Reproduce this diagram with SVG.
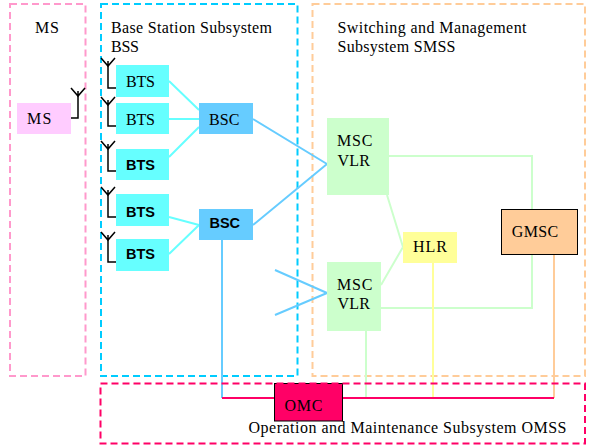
<svg xmlns="http://www.w3.org/2000/svg" width="592" height="447" viewBox="0 0 592 447">
<defs>
<path id="ant" d="M-7 -8L0 0L7 -8M0 -5V0" fill="none" stroke="#000" stroke-width="1.500"/>
</defs>
<style>
text{font-family:"Liberation Serif","Times New Roman",serif;font-size:16px;fill:#000}
.b{font-family:"Liberation Sans",Arial,sans-serif;font-weight:bold;font-size:14.500px}
.frame{fill:none;stroke-width:2;stroke-dasharray:7 4}
.c{fill:none;stroke-width:2}
.a{fill:none;stroke:#000;stroke-width:1.500}
</style>
<rect width="592" height="447" fill="#fff"/>
<g id="frames">
<rect id="frame-ms" class="frame" x="10" y="4" width="75.500" height="372" stroke="#ff99cc"/>
<rect id="frame-bss" class="frame" x="101" y="4" width="196.500" height="372" stroke="#00ccff"/>
<rect id="frame-smss" class="frame" x="312.500" y="4" width="272.500" height="372" stroke="#ffcc99"/>
</g>
<g id="connectors">
<path class="c" stroke="#66ffff" d="M169 81L199 110M169 119H199M169 157L199 127M169 217L199 225M169 254L199 225"/>
<path class="c" stroke="#66ccff" d="M253 119L327 164M253 225L327 164M275 270L327 293M275 315L327 293M222 240V398"/>
<path class="c" stroke="#ccffcc" d="M389 156H532V209M387 195L403 247M381 285L403 247M381 308H532V254M366 331V398"/>
<path class="c" stroke="#ffff99" d="M433 263V398"/>
<path class="c" stroke="#ffcc99" d="M554 254V398"/>
<path class="c" stroke="#ff0066" d="M222 398H274M342 398H554"/>
</g>
<g id="antennas">
<path class="a" d="M108 66V88H116"/><use href="#ant" x="108" y="66"/>
<path class="a" d="M108 105V126H116"/><use href="#ant" x="108" y="105"/>
<path class="a" d="M108 149V171H116"/><use href="#ant" x="108" y="149"/>
<path class="a" d="M108 195V217H116"/><use href="#ant" x="108" y="195"/>
<path class="a" d="M108 240V262H116"/><use href="#ant" x="108" y="240"/>
<path class="a" d="M78 96V118H71"/><use href="#ant" x="78" y="96"/>
</g>
<g id="title-ms"><text x="35" y="33" textLength="24">MS</text></g>
<g id="title-bss"><text x="111" y="33" textLength="161">Base Station Subsystem</text><text x="111" y="52" textLength="28">BSS</text></g>
<g id="title-smss"><text x="337.500" y="33" textLength="189">Switching and Management</text><text x="337.500" y="52" textLength="118">Subsystem SMSS</text></g>
<g id="ms"><rect x="17" y="103" width="54" height="31" fill="#ffccff"/><text x="27" y="124" textLength="24.500">MS</text></g>
<g id="bts1"><rect x="116" y="65" width="53" height="32" fill="#66ffff"/><text x="126" y="87" textLength="29">BTS</text></g>
<g id="bts2"><rect x="116" y="103" width="53" height="31" fill="#66ffff"/><text x="126" y="125" textLength="29">BTS</text></g>
<g id="bts3"><rect x="116" y="149" width="53" height="31" fill="#66ffff"/><text class="b" x="126" y="170" textLength="29">BTS</text></g>
<g id="bts4"><rect x="116" y="194" width="53" height="32" fill="#66ffff"/><text class="b" x="126" y="217" textLength="29">BTS</text></g>
<g id="bts5"><rect x="116" y="239" width="53" height="32" fill="#66ffff"/><text class="b" x="126" y="259" textLength="29">BTS</text></g>
<g id="bsc1"><rect x="199" y="103" width="54" height="31" fill="#66ccff"/><text x="209" y="125" textLength="30.500">BSC</text></g>
<g id="bsc2"><rect x="199" y="209" width="54" height="31" fill="#66ccff"/><text class="b" x="209.500" y="228" textLength="30.500">BSC</text></g>
<g id="msc1"><rect x="327" y="118" width="62" height="77" fill="#ccffcc"/><text x="337" y="146" textLength="35.500">MSC</text><text x="337.500" y="166" textLength="32.500">VLR</text></g>
<g id="msc2"><rect x="327" y="262" width="54" height="69" fill="#ccffcc"/><text x="337" y="290" textLength="35.500">MSC</text><text x="337.500" y="309" textLength="32.500">VLR</text></g>
<g id="hlr"><rect x="403" y="232" width="54" height="31" fill="#ffff99"/><text x="413" y="252" textLength="34">HLR</text></g>
<g id="gmsc"><rect x="501.500" y="209.500" width="76" height="45" fill="#ffcc99" stroke="#000"/><text x="511.700" y="237" textLength="46.500">GMSC</text></g>
<g id="omc"><rect x="274.500" y="383.500" width="68" height="37.500" fill="#ff0066" stroke="#000"/><text x="284.500" y="411" textLength="38">OMC</text></g>
<rect id="frame-omss" class="frame" x="100.500" y="383.500" width="484.500" height="60" stroke="#ff0066"/>
<g id="title-omss"><text x="248.500" y="433" textLength="318">Operation and Maintenance Subsystem OMSS</text></g>
</svg>
